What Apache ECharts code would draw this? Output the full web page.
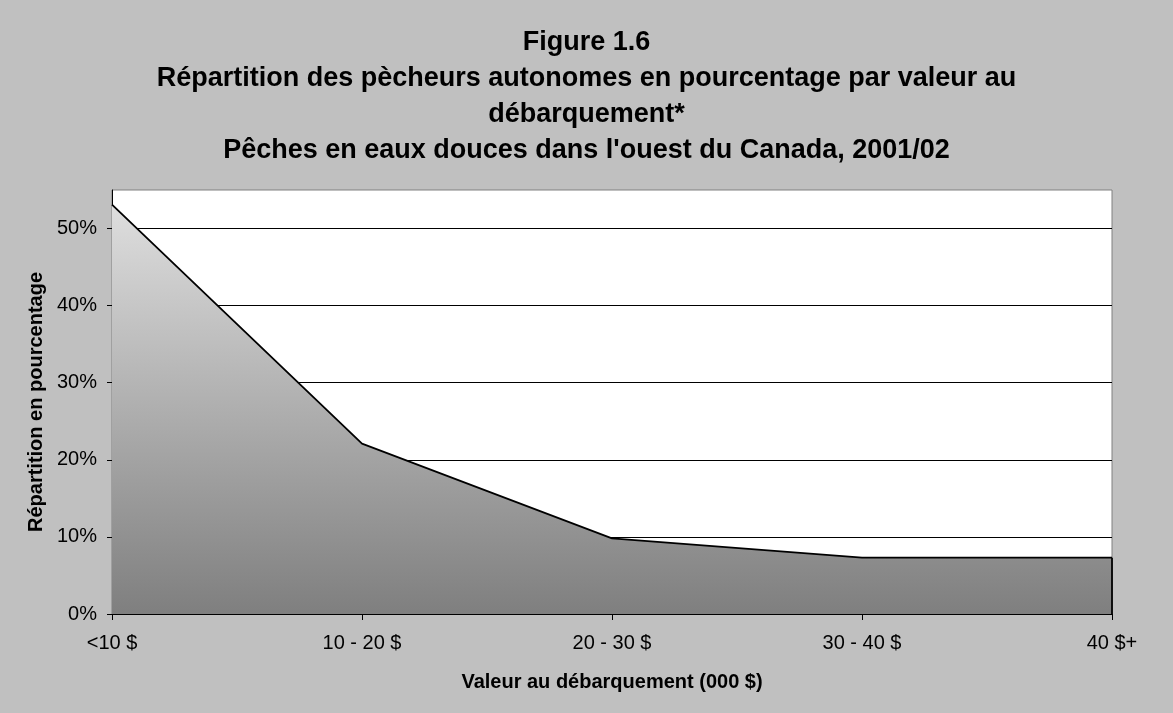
<!DOCTYPE html>
<html>
<head>
<meta charset="utf-8">
<script src="https://cdn.jsdelivr.net/npm/echarts@6/dist/echarts.min.js"></script>
<style>
html,body{margin:0;padding:0;background:#c0c0c0;}
#chart{width:1173px;height:713px;}
</style>
</head>
<body>
<div id="chart"></div>
<script>
const titleLines = [
  "Figure 1.6",
  "Répartition des pècheurs autonomes en pourcentage par valeur au",
  "débarquement*",
  "Pêches en eaux douces dans l'ouest du Canada, 2001/02"
];
const categories = ["<10 $", "10 - 20 $", "20 - 30 $", "30 - 40 $", "40 $+"];
const values = [53.1, 22.1, 9.8, 7.3, 7.3];
const yTicks = [0, 10, 20, 30, 40, 50];
const yMax = 55;
const xAxisName = "Valeur au débarquement (000 $)";
const yAxisName = "Répartition en pourcentage";

const font = "'Liberation Sans', Arial, sans-serif";
const chart = echarts.init(document.getElementById('chart'), null, {renderer: 'canvas'});
const lastIdx = values.length - 1;
chart.setOption({
  backgroundColor: '#c0c0c0',
  animation: false,
  title: {
    text: titleLines.join('\n'),
    left: 'center',
    top: 20,
    textStyle: {fontFamily: font, fontSize: 27, fontWeight: 'bold', color: '#000', lineHeight: 36}
  },
  grid: {left: 112, right: 61, top: 190, bottom: 99, show: true, backgroundColor: '#fff', borderColor: '#808080', borderWidth: 1},
  xAxis: {
    type: 'category',
    data: categories,
    boundaryGap: false,
    name: xAxisName,
    nameLocation: 'middle',
    nameGap: 58,
    nameTextStyle: {fontFamily: font, fontSize: 20, fontWeight: 'bold', color: '#000'},
    axisLine: {lineStyle: {color: '#000', width: 1}},
    axisTick: {show: true, length: 6, lineStyle: {color: '#000'}},
    axisLabel: {fontFamily: font, fontSize: 20, color: '#000', margin: 19},
    splitLine: {show: false}
  },
  yAxis: {
    type: 'value',
    min: 0,
    max: yMax,
    interval: 10,
    name: yAxisName,
    nameLocation: 'middle',
    nameGap: 65,
    nameTextStyle: {fontFamily: font, fontSize: 20, fontWeight: 'bold', color: '#000'},
    axisLine: {show: true, lineStyle: {color: '#000', width: 1}},
    axisTick: {show: true, length: 5, lineStyle: {color: '#000'}, customValues: yTicks},
    axisLabel: {fontFamily: font, fontSize: 20, color: '#000', margin: 15, formatter: '{value}%', customValues: yTicks},
    splitLine: {show: true, showMaxLine: true, showMinLine: false, lineStyle: {color: '#000', width: 1}}
  },
  series: [{
    type: 'line',
    data: values,
    symbol: 'none',
    lineStyle: {color: '#000', width: 1.8},
    areaStyle: {
      opacity: 1,
      color: new echarts.graphic.LinearGradient(0, 0, 0, 1, [
        {offset: 0, color: '#dedede'},
        {offset: 1, color: '#7f7f7f'}
      ])
    },
    markLine: {
      silent: true,
      symbol: 'none',
      label: {show: false},
      lineStyle: {color: '#000', width: 1.8, type: 'solid'},
      data: [[{coord: [lastIdx, values[lastIdx]]}, {coord: [lastIdx, 0]}]]
    }
  }]
});
</script>
</body>
</html>
